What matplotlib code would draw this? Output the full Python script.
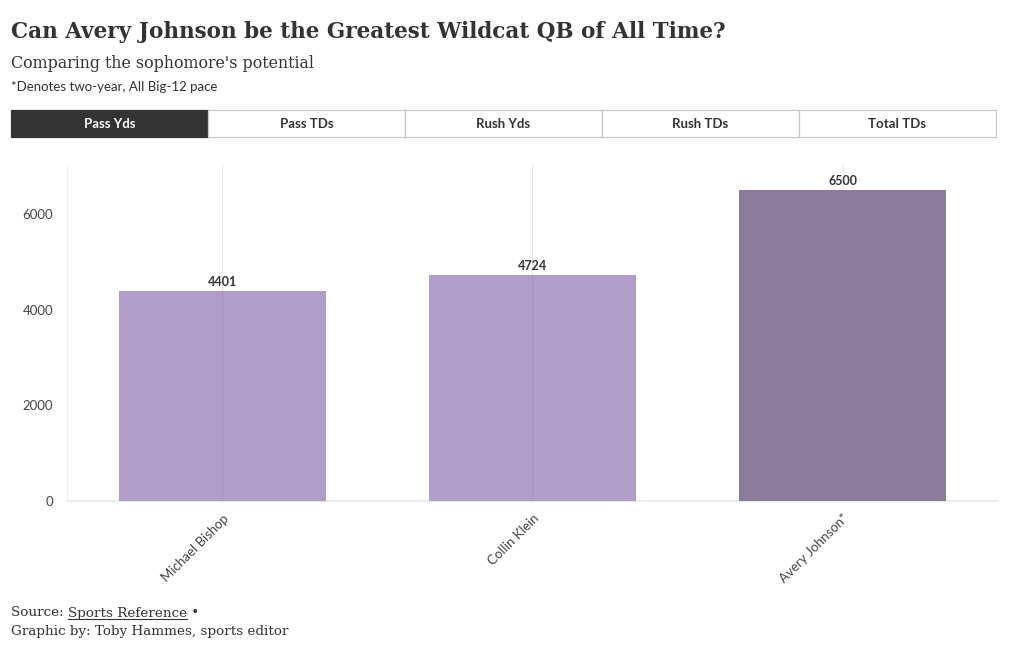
import matplotlib
matplotlib.use("Agg")
import matplotlib.pyplot as plt
from matplotlib.patches import Rectangle
from matplotlib.lines import Line2D

players = ["Michael Bishop", "Collin Klein", "Avery Johnson*"]
pass_yds = [4401, 4724, 6500]
bar_colors = ["#b09dc8", "#b09dc8", "#8a7b9b"]
tabs = ["Pass Yds", "Pass TDs", "Rush Yds", "Rush TDs", "Total TDs"]
yticks = [0, 2000, 4000, 6000]

W, H = 1020, 650
fig = plt.figure(figsize=(W / 100, H / 100), dpi=100)
fig.patch.set_facecolor("white")

SERIF = ["DejaVu Serif"]
SANS = ["Lato", "DejaVu Sans"]

# titles
fig.text(11 / W, 1 - 32 / H, "Can Avery Johnson be the Greatest Wildcat QB of All Time?",
         family=SERIF, fontsize=15.5, fontweight="bold", color="#333333", va="center")
fig.text(11 / W, 1 - 63 / H, "Comparing the sophomore's potential",
         family=SERIF, fontsize=11.4, color="#333333", va="center")
fig.text(11 / W, 1 - 87 / H, "*Denotes two-year, All Big-12 pace",
         family=SANS, fontsize=9.5, color="#333333", va="center")

# tab buttons
x0, x1, yt, yb = 11, 996, 110, 137
bw = (x1 - x0) / len(tabs)
for i, t in enumerate(tabs):
    active = i == 0
    fig.patches.append(Rectangle(((x0 + i * bw) / W, 1 - yb / H), bw / W, (yb - yt) / H,
                                 transform=fig.transFigure, facecolor="#333333" if active else "white",
                                 edgecolor="#333333" if active else "#c8c8c8", linewidth=0.9))
    fig.text((x0 + (i + 0.5) * bw) / W, 1 - (yt + yb) / 2 / H, t, family=SANS, fontsize=9.5,
             fontweight="bold", color="white" if active else "#333333", ha="center", va="center")

# chart
ax = fig.add_axes([67 / W, 1 - 501 / H, 931 / W, 336 / H])
x = range(len(players))
ax.bar(x, pass_yds, width=0.667, color=bar_colors, zorder=1)
for xi, v in zip(x, pass_yds):
    ax.text(xi, v + 60, str(v), ha="center", va="bottom", family=SANS, fontsize=9,
            fontweight="bold", color="#333333")
ax.set_xlim(-0.5, 2.5)
ax.set_ylim(0, 7025)
ax.set_xticks(list(x))
ax.set_xticklabels(players, rotation=45, ha="right", rotation_mode="anchor",
                   family=SANS, fontsize=9.5, color="#444444")
ax.set_yticks(yticks)
ax.set_yticklabels([str(t) for t in yticks], family=SANS, fontsize=9.5, color="#444444")
ax.tick_params(length=0, pad=10)
ax.tick_params(axis="x", pad=8)
for s in ax.spines.values():
    s.set_visible(False)
ax.grid(axis="x", color="#8a7b9b", alpha=0.2, linewidth=0.8, zorder=2)
ax.set_axisbelow(False)
ax.axhline(0, color="#e4e4e4", linewidth=1.1, zorder=0, clip_on=False)
ax.axvline(-0.5, color="#eeeeee", linewidth=1, zorder=0)

# footer
fig.canvas.draw()
r = fig.canvas.get_renderer()
fy = 1 - 613 / H
FS = 9.7
t1 = fig.text(11 / W, fy, "Source: ", family=SERIF, fontsize=FS, color="#333333", va="center")
fig.canvas.draw()
e1 = t1.get_window_extent(r)
t2 = fig.text(e1.x1 / W, fy, "Sports Reference", family=SERIF, fontsize=FS, color="#333333", va="center")
fig.canvas.draw()
e2 = t2.get_window_extent(r)
fig.text(e2.x1 / W, fy, " \u2022", family=SERIF, fontsize=FS, color="#333333", va="center")
fig.lines.append(Line2D([e2.x0 / W, e2.x1 / W], [(e2.y0 + 1) / H, (e2.y0 + 1) / H],
                        transform=fig.transFigure, color="#333333", linewidth=0.8))
fig.text(11 / W, 1 - 631 / H, "Graphic by: Toby Hammes, sports editor",
         family=SERIF, fontsize=FS, color="#333333", va="center")

fig.savefig("out.png", dpi=100)
